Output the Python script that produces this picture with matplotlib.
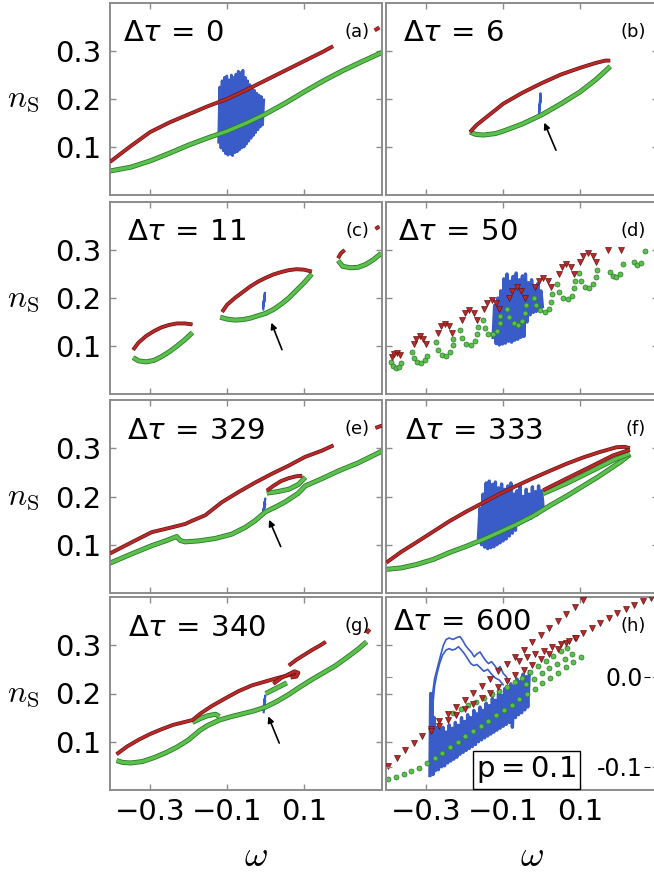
import matplotlib
matplotlib.use("Agg")
import matplotlib.pyplot as plt
import matplotlib.patheffects as pe

# ---- data (axis units: omega, n_s) ----
taus = [0, 6, 11, 50, 329, 333, 340, 600]
letters = ["a", "b", "c", "d", "e", "f", "g", "h"]
xtick_vals = [-0.3, -0.1, 0.1]
xtick_text = ["\u22120.3", "\u22120.1", "0.1"]
ytick_vals = [0.1, 0.2, 0.3]
ytick_text = ["0.1", "0.2", "0.3"]

# (a)
a_red_x = [-0.404, -0.35, -0.30, -0.25, -0.20, -0.15, -0.10, -0.05, 0.00, 0.05, 0.10, 0.15, 0.175]
a_red_y = [0.069, 0.102, 0.131, 0.151, 0.168, 0.185, 0.200, 0.219, 0.239, 0.259, 0.279, 0.299, 0.310]
a_red2_x = [0.283, 0.295]
a_red2_y = [0.343, 0.349]
a_grn_x = [-0.404, -0.35, -0.30, -0.25, -0.20, -0.15, -0.10, -0.05, 0.00, 0.05, 0.10, 0.15, 0.20, 0.25, 0.302]
a_grn_y = [0.050, 0.058, 0.071, 0.087, 0.104, 0.119, 0.133, 0.150, 0.169, 0.191, 0.215, 0.238, 0.259, 0.278, 0.297]
a_blue_x = [-0.122, -0.119, -0.116, -0.113, -0.110, -0.107, -0.104, -0.101, -0.098, -0.095,
            -0.092, -0.089, -0.086, -0.083, -0.080, -0.077, -0.074, -0.071, -0.068, -0.065,
            -0.062, -0.059, -0.056, -0.053, -0.050, -0.047, -0.044, -0.041, -0.038, -0.035,
            -0.032, -0.029, -0.026, -0.023, -0.020, -0.017, -0.014, -0.011, -0.008, -0.005]
a_blue_y = [0.110, 0.225, 0.098, 0.238, 0.092, 0.245, 0.086, 0.248, 0.083, 0.240,
            0.085, 0.250, 0.082, 0.245, 0.088, 0.252, 0.090, 0.258, 0.094, 0.255,
            0.098, 0.260, 0.100, 0.245, 0.106, 0.238, 0.112, 0.230, 0.118, 0.222,
            0.124, 0.218, 0.130, 0.212, 0.136, 0.208, 0.142, 0.205, 0.146, 0.198]

# (b)
b_red_x = [-0.186, -0.17, -0.15, -0.12, -0.10, -0.05, 0.00, 0.05, 0.10, 0.14, 0.165, 0.178]
b_red_y = [0.131, 0.145, 0.158, 0.177, 0.190, 0.213, 0.233, 0.251, 0.265, 0.275, 0.280, 0.280]
b_grn_x = [-0.186, -0.17, -0.15, -0.12, -0.10, -0.05, 0.00, 0.05, 0.10, 0.14, 0.165, 0.178]
b_grn_y = [0.131, 0.126, 0.125, 0.128, 0.133, 0.148, 0.167, 0.190, 0.215, 0.240, 0.258, 0.268]
b_blue_x = [-0.006, -0.003, -0.007, -0.002, -0.006, -0.003, -0.005]
b_blue_y = [0.168, 0.212, 0.172, 0.206, 0.178, 0.198, 0.185]
b_arrow = [0.040, 0.088, 0.004, 0.156]

# (c)
c_red1_x = [-0.344, -0.33, -0.31, -0.29, -0.27, -0.25, -0.23, -0.21, -0.19]
c_red1_y = [0.092, 0.107, 0.121, 0.131, 0.139, 0.144, 0.147, 0.147, 0.145]
c_grn1_x = [-0.344, -0.33, -0.31, -0.29, -0.27, -0.25, -0.23, -0.21, -0.19]
c_grn1_y = [0.076, 0.069, 0.067, 0.070, 0.078, 0.088, 0.100, 0.113, 0.128]
c_red2_x = [-0.113, -0.10, -0.08, -0.06, -0.04, -0.02, 0.00, 0.02, 0.04, 0.06, 0.08, 0.10, 0.12]
c_red2_y = [0.171, 0.186, 0.200, 0.212, 0.224, 0.234, 0.242, 0.249, 0.254, 0.258, 0.260, 0.259, 0.255]
c_grn2_x = [-0.118, -0.10, -0.08, -0.06, -0.04, -0.02, 0.00, 0.02, 0.04, 0.06, 0.08, 0.10, 0.12]
c_grn2_y = [0.160, 0.156, 0.154, 0.155, 0.158, 0.163, 0.168, 0.176, 0.187, 0.200, 0.216, 0.232, 0.250]
c_red3_x = [0.188, 0.195, 0.205]
c_red3_y = [0.283, 0.293, 0.300]
c_red4_x = [0.285, 0.295]
c_red4_y = [0.344, 0.349]
c_grn3_x = [0.188, 0.20, 0.22, 0.24, 0.26, 0.28, 0.30]
c_grn3_y = [0.278, 0.266, 0.263, 0.264, 0.270, 0.280, 0.293]
c_blue_x = [-0.006, -0.002, -0.007, -0.003, -0.006, -0.002, -0.005]
c_blue_y = [0.176, 0.211, 0.180, 0.205, 0.184, 0.198, 0.188]
c_arrow = [0.045, 0.087, 0.012, 0.154]

# (d) individual markers, loop by loop
d_red_x = [-0.388, -0.382, -0.375, -0.368,
           -0.332, -0.325, -0.316, -0.307, -0.300,
           -0.270, -0.262, -0.251, -0.240, -0.232,
           -0.208, -0.200, -0.188, -0.176, -0.168,
           -0.150, -0.142, -0.130, -0.118, -0.110,
           -0.086, -0.077, -0.065, -0.053, -0.044,
           -0.016, -0.008, 0.004, 0.016, 0.024,
           0.044, 0.052, 0.064, 0.076, 0.084,
           0.100, 0.108, 0.120, 0.132, 0.140,
           0.173, 0.207]
d_red_y = [0.078, 0.084, 0.086, 0.082,
           0.104, 0.115, 0.120, 0.115, 0.105,
           0.128, 0.141, 0.146, 0.141, 0.128,
           0.155, 0.168, 0.174, 0.168, 0.155,
           0.177, 0.190, 0.196, 0.190, 0.177,
           0.201, 0.215, 0.222, 0.215, 0.201,
           0.222, 0.235, 0.241, 0.235, 0.222,
           0.251, 0.264, 0.271, 0.264, 0.251,
           0.274, 0.287, 0.293, 0.287, 0.274,
           0.300, 0.300]
d_grn_x = [-0.390, -0.386, -0.378, -0.370, -0.366,
           -0.336, -0.331, -0.323, -0.313, -0.304, -0.298,
           -0.273, -0.268, -0.259, -0.247, -0.237, -0.231, -0.229,
           -0.211, -0.206, -0.196, -0.184, -0.174, -0.167, -0.165,
           -0.153, -0.148, -0.138, -0.126, -0.116, -0.109, -0.107,
           -0.089, -0.084, -0.073, -0.061, -0.050, -0.043, -0.041,
           -0.019, -0.014, -0.004, 0.008, 0.018, 0.025, 0.027,
           0.041, 0.046, 0.056, 0.068, 0.078, 0.085, 0.087,
           0.097, 0.102, 0.112, 0.124, 0.134, 0.141, 0.143,
           0.177, 0.186, 0.194, 0.204, 0.211,
           0.239, 0.248, 0.259, 0.268]
d_grn_y = [0.066, 0.058, 0.054, 0.057, 0.064,
           0.088, 0.075, 0.066, 0.064, 0.070, 0.080,
           0.108, 0.092, 0.082, 0.080, 0.088, 0.103, 0.115,
           0.133, 0.116, 0.104, 0.102, 0.110, 0.125, 0.140,
           0.155, 0.138, 0.126, 0.124, 0.132, 0.147, 0.162,
           0.178, 0.160, 0.147, 0.144, 0.152, 0.168, 0.185,
           0.201, 0.185, 0.174, 0.171, 0.178, 0.192, 0.208,
           0.229, 0.212, 0.199, 0.197, 0.205, 0.220, 0.236,
           0.252, 0.235, 0.223, 0.221, 0.229, 0.244, 0.259,
           0.255, 0.246, 0.244, 0.251, 0.270,
           0.276, 0.269, 0.273, 0.298]
d_blue_x = [-0.126, -0.122, -0.118, -0.114, -0.110, -0.106, -0.102, -0.098, -0.094, -0.090,
            -0.086, -0.082, -0.078, -0.074, -0.070, -0.066, -0.062, -0.058, -0.054, -0.050,
            -0.046, -0.042, -0.038, -0.034, -0.030, -0.026, -0.022, -0.018, -0.014, -0.010,
            -0.006, -0.002, 0.002]
d_blue_y = [0.118, 0.185, 0.105, 0.200, 0.102, 0.215, 0.104, 0.240, 0.106, 0.250,
            0.110, 0.235, 0.108, 0.245, 0.112, 0.252, 0.114, 0.238, 0.118, 0.246,
            0.120, 0.250, 0.150, 0.232, 0.165, 0.238, 0.170, 0.225, 0.172, 0.230,
            0.178, 0.215, 0.182]

# (e)
e_red1_x = [-0.404, -0.348, -0.296, -0.244, -0.209, -0.190, -0.157, -0.114, -0.071, -0.027, 0.016, 0.060, 0.102, 0.146, 0.176]
e_red1_y = [0.082, 0.105, 0.126, 0.136, 0.143, 0.150, 0.161, 0.188, 0.209, 0.229, 0.247, 0.264, 0.282, 0.295, 0.306]
e_red2_x = [0.003, 0.020, 0.040, 0.060, 0.080, 0.095]
e_red2_y = [0.212, 0.222, 0.232, 0.238, 0.242, 0.243]
e_red3_x = [0.285, 0.302]
e_red3_y = [0.342, 0.347]
e_grn1_x = [-0.404, -0.348, -0.296, -0.260, -0.231, -0.222, -0.209, -0.174, -0.131, -0.088, -0.053,
            -0.027, -0.001, 0.025, 0.051, 0.085, 0.103, 0.146, 0.189, 0.241, 0.302]
e_grn1_y = [0.062, 0.081, 0.098, 0.108, 0.117, 0.109, 0.106, 0.108, 0.113, 0.122, 0.136,
            0.150, 0.168, 0.178, 0.189, 0.207, 0.222, 0.237, 0.253, 0.270, 0.294]
e_grn2_x = [0.003, 0.030, 0.060, 0.085, 0.103]
e_grn2_y = [0.207, 0.210, 0.215, 0.225, 0.240]
e_blue_x = [-0.005, -0.001, -0.006, -0.002, -0.005, -0.001, -0.004]
e_blue_y = [0.164, 0.196, 0.168, 0.190, 0.172, 0.185, 0.176]
e_arrow = [0.042, 0.091, 0.006, 0.157]

# (f)
f_red1_x = [-0.403, -0.365, -0.325, -0.280, -0.239, -0.195, -0.152, -0.110, -0.066, -0.022, 0.021, 0.065, 0.108, 0.150, 0.194, 0.215, 0.229]
f_red1_y = [0.063, 0.085, 0.105, 0.128, 0.149, 0.169, 0.187, 0.205, 0.222, 0.238, 0.253, 0.268, 0.281, 0.292, 0.302, 0.303, 0.300]
f_red2_x = [0.004, 0.064, 0.125, 0.185, 0.229]
f_red2_y = [0.213, 0.237, 0.261, 0.285, 0.297]
f_grn1_x = [-0.403, -0.365, -0.325, -0.280, -0.239, -0.195, -0.152, -0.110, -0.066, -0.022, 0.021, 0.065, 0.108, 0.145, 0.177, 0.205, 0.229]
f_grn1_y = [0.049, 0.052, 0.059, 0.070, 0.084, 0.097, 0.111, 0.126, 0.142, 0.160, 0.181, 0.201, 0.222, 0.240, 0.257, 0.272, 0.287]
f_grn2_x = [0.004, 0.064, 0.125, 0.185, 0.229]
f_grn2_y = [0.206, 0.227, 0.251, 0.275, 0.289]
f_blue_x = [-0.164, -0.160, -0.156, -0.152, -0.148, -0.144, -0.140, -0.136, -0.132, -0.128,
            -0.124, -0.120, -0.116, -0.112, -0.108, -0.104, -0.100, -0.096, -0.092, -0.088,
            -0.084, -0.080, -0.076, -0.072, -0.068, -0.064, -0.060, -0.056, -0.052, -0.048,
            -0.044, -0.040, -0.036, -0.032, -0.028, -0.024, -0.020, -0.016, -0.012, -0.008,
            -0.004, 0.000, 0.004]
f_blue_y = [0.115, 0.175, 0.100, 0.205, 0.095, 0.228, 0.092, 0.232, 0.094, 0.225,
            0.096, 0.230, 0.100, 0.218, 0.104, 0.226, 0.108, 0.215, 0.112, 0.222,
            0.118, 0.228, 0.124, 0.205, 0.130, 0.212, 0.142, 0.222, 0.146, 0.200,
            0.150, 0.215, 0.152, 0.205, 0.155, 0.220, 0.160, 0.210, 0.162, 0.222,
            0.168, 0.212, 0.175]

# (g)
g_red1_x = [-0.387, -0.36, -0.33, -0.30, -0.27, -0.24, -0.21, -0.19, -0.17, -0.14, -0.10, -0.07, -0.035, 0.0, 0.03, 0.06, 0.08]
g_red1_y = [0.074, 0.090, 0.104, 0.116, 0.126, 0.135, 0.141, 0.145, 0.158, 0.174, 0.192, 0.205, 0.217, 0.225, 0.232, 0.238, 0.243]
g_red2_x = [0.06, 0.08, 0.10, 0.12, 0.14, 0.156]
g_red2_y = [0.258, 0.270, 0.280, 0.290, 0.299, 0.307]
g_red3_x = [0.02, 0.04, 0.06, 0.075, 0.085, 0.080, 0.065]
g_red3_y = [0.220, 0.232, 0.240, 0.246, 0.243, 0.235, 0.233]
g_red4_x = [0.262, 0.270]
g_red4_y = [0.325, 0.333]
g_grn1_x = [-0.387, -0.37, -0.35, -0.32, -0.29, -0.26, -0.23, -0.20, -0.17, -0.15, -0.12, -0.09,
            -0.06, -0.03, 0.0, 0.03, 0.06, 0.09, 0.12, 0.15, 0.18, 0.21, 0.24, 0.262]
g_grn1_y = [0.061, 0.057, 0.056, 0.059, 0.067, 0.077, 0.089, 0.104, 0.124, 0.134, 0.145, 0.152,
            0.158, 0.164, 0.172, 0.184, 0.198, 0.214, 0.229, 0.243, 0.257, 0.274, 0.292, 0.307]
g_grn2_x = [0.0, 0.02, 0.04, 0.055]
g_grn2_y = [0.200, 0.208, 0.216, 0.222]
g_grn3_x = [-0.19, -0.17, -0.15, -0.13, -0.12]
g_grn3_y = [0.140, 0.148, 0.154, 0.157, 0.152]
g_blue_x = [-0.005, -0.001, -0.006, -0.002, -0.005, -0.001, -0.004]
g_blue_y = [0.161, 0.196, 0.165, 0.190, 0.170, 0.185, 0.175]
g_arrow = [0.038, 0.092, 0.004, 0.158]

# (h) dotted branches and trajectory
h_red1_x = [-0.398, -0.376, -0.354, -0.332, -0.310, -0.288, -0.266, -0.244, -0.222, -0.200, -0.178, -0.156,
            -0.134, -0.112, -0.090, -0.068, -0.046, -0.024, -0.002, 0.020, 0.042, 0.064, 0.086, 0.108]
h_red1_y = [0.050, 0.066, 0.082, 0.097, 0.112, 0.127, 0.142, 0.157, 0.172, 0.187, 0.202, 0.216,
            0.231, 0.246, 0.261, 0.276, 0.291, 0.306, 0.321, 0.336, 0.351, 0.365, 0.379, 0.393]
h_red2_x = [-0.288, -0.266, -0.244, -0.222, -0.200, -0.178, -0.156, -0.134, -0.112, -0.090, -0.068, -0.046, -0.024, -0.002,
            0.020, 0.042, 0.064, 0.086, 0.108, 0.130, 0.152, 0.174, 0.196, 0.218, 0.240, 0.262, 0.284]
h_red2_y = [0.122, 0.133, 0.145, 0.156, 0.168, 0.179, 0.190, 0.202, 0.213, 0.226, 0.238, 0.249, 0.260, 0.271,
            0.282, 0.293, 0.304, 0.315, 0.326, 0.336, 0.346, 0.356, 0.366, 0.375, 0.384, 0.392, 0.398]
h_red3_x = [-0.060, -0.038, -0.016, 0.006, 0.028, 0.050, 0.072, 0.090]
h_red3_y = [0.268, 0.275, 0.282, 0.289, 0.296, 0.303, 0.309, 0.315]
h_grn1_x = [-0.398, -0.378, -0.358, -0.338, -0.318, -0.298, -0.278, -0.258, -0.238, -0.218, -0.198, -0.178, -0.158,
            -0.138, -0.118, -0.098, -0.078, -0.058, -0.038, -0.018, 0.002, 0.022, 0.042, 0.062, 0.082, 0.102]
h_grn1_y = [0.022, 0.027, 0.033, 0.039, 0.046, 0.055, 0.066, 0.077, 0.089, 0.100, 0.111, 0.122, 0.133,
            0.144, 0.155, 0.166, 0.177, 0.188, 0.199, 0.210, 0.221, 0.232, 0.243, 0.254, 0.265, 0.276]
h_grn2_x = [-0.230, -0.210, -0.190, -0.170, -0.150, -0.130, -0.110, -0.090, -0.070, -0.050, -0.030, -0.010, 0.010, 0.030, 0.050, 0.065]
h_grn2_y = [0.160, 0.168, 0.176, 0.183, 0.190, 0.198, 0.206, 0.214, 0.223, 0.233, 0.244, 0.256, 0.267, 0.278, 0.288, 0.295]
h_grn3_x = [-0.040, -0.020, 0.000, 0.020, 0.040, 0.060, 0.080]
h_grn3_y = [0.220, 0.231, 0.242, 0.252, 0.262, 0.272, 0.282]
h_blue1_x = [-0.290, -0.288, -0.286, -0.284, -0.282, -0.279, -0.276, -0.272, -0.268, -0.264,
             -0.260, -0.256, -0.252, -0.248, -0.244, -0.240, -0.236, -0.232, -0.228, -0.224,
             -0.220, -0.216, -0.212, -0.208, -0.204, -0.200, -0.196, -0.192, -0.188, -0.184,
             -0.180, -0.176, -0.172, -0.168, -0.164, -0.160, -0.156, -0.152, -0.148, -0.144,
             -0.140, -0.136, -0.132, -0.128, -0.124, -0.120, -0.116, -0.112, -0.108, -0.104,
             -0.100, -0.096, -0.092, -0.088, -0.084, -0.080, -0.076, -0.072, -0.068, -0.064,
             -0.060, -0.056, -0.052, -0.048, -0.044, -0.040, -0.036, -0.032]
h_blue1_y = [0.030, 0.200, 0.035, 0.180, 0.032, 0.150, 0.040, 0.130, 0.042, 0.125,
             0.048, 0.130, 0.050, 0.120, 0.056, 0.135, 0.060, 0.128, 0.064, 0.140,
             0.068, 0.134, 0.074, 0.150, 0.078, 0.142, 0.082, 0.156, 0.086, 0.150,
             0.090, 0.165, 0.094, 0.158, 0.100, 0.172, 0.104, 0.165, 0.108, 0.180,
             0.112, 0.175, 0.116, 0.190, 0.120, 0.186, 0.124, 0.200, 0.128, 0.196,
             0.132, 0.210, 0.136, 0.205, 0.140, 0.220, 0.130, 0.215, 0.150, 0.230,
             0.156, 0.225, 0.160, 0.240, 0.166, 0.235, 0.172, 0.245]
h_blue2_x = [-0.285, -0.283, -0.278, -0.270, -0.262, -0.255, -0.248, -0.240, -0.230, -0.220, -0.212, -0.205, -0.198, -0.190,
             -0.182, -0.175, -0.168, -0.160, -0.152, -0.145, -0.138, -0.130, -0.122, -0.115, -0.108, -0.100, -0.092, -0.085]
h_blue2_y = [0.150, 0.200, 0.230, 0.255, 0.280, 0.300, 0.312, 0.315, 0.312, 0.316, 0.318, 0.310, 0.300, 0.292,
             0.285, 0.276, 0.282, 0.286, 0.276, 0.268, 0.262, 0.266, 0.258, 0.250, 0.256, 0.242, 0.235, 0.225]
h_blue3_x = [-0.282, -0.278, -0.272, -0.265, -0.257, -0.248, -0.240, -0.232, -0.224, -0.216, -0.208, -0.200,
             -0.192, -0.184, -0.176, -0.168, -0.160, -0.150, -0.140, -0.130, -0.120, -0.110, -0.100]
h_blue3_y = [0.180, 0.215, 0.240, 0.262, 0.280, 0.290, 0.293, 0.290, 0.292, 0.297, 0.290, 0.282,
             0.272, 0.262, 0.258, 0.260, 0.254, 0.246, 0.250, 0.240, 0.232, 0.228, 0.218]
h_side_ticks = [-0.1, 0.0]
h_side_text = ["-0.1", "0.0"]

RED, RED_EDGE = "#b82a2a", "#6a1212"
GRN, GRN_EDGE = "#5cc04c", "#2a7a2a"
BLUE = "#3a5cc8"
FRAME = "#8c8c8c"


def band(ax, x, y, kind):
    if kind == "r":
        ax.plot(x, y, color=RED, lw=1.8, zorder=3, solid_capstyle="butt",
                path_effects=[pe.Stroke(linewidth=2.8, foreground=RED_EDGE), pe.Normal()])
    else:
        ax.plot(x, y, color=GRN, lw=2.4, zorder=2, solid_capstyle="butt",
                path_effects=[pe.Stroke(linewidth=3.6, foreground=GRN_EDGE), pe.Normal()])


def dots(ax, x, y, kind):
    if kind == "r":
        ax.plot(x, y, "v", ms=3.8, mfc=RED, mec=RED_EDGE, mew=0.5, zorder=3, ls="none")
    else:
        ax.plot(x, y, "o", ms=3.6, mfc=GRN, mec=GRN_EDGE, mew=0.5, zorder=2, ls="none")


def blob(ax, x, y, lw=2.0):
    ax.plot(x, y, color=BLUE, lw=lw, zorder=1)


def arrow(ax, a):
    ax.annotate("", xy=(a[2], a[3]), xytext=(a[0], a[1]),
                arrowprops=dict(arrowstyle="-|>", color="black", lw=1.2, mutation_scale=9))


W, H = 654, 873
fig = plt.figure(figsize=(6.54, 8.73), dpi=100)
col_left = [110, 386]
row_top = [3, 202, 400, 597]
row_bot = [195, 394, 593, 790]
tau_x = [0.048, 0.062, 0.062, 0.044, 0.062, 0.07, 0.066, 0.026]

axes = []
for i in range(8):
    r, c = divmod(i, 2)
    ax = fig.add_axes([col_left[c] / W, 1 - row_bot[r] / H, 272 / W, (row_bot[r] - row_top[r]) / H])
    ax.set_xlim(-0.404, 0.302)
    ax.set_ylim(0.0, 0.4)
    for s in ax.spines.values():
        s.set_color(FRAME)
        s.set_linewidth(1.4)
    ax.set_xticks(xtick_vals)
    ax.set_yticks(ytick_vals)
    ax.tick_params(direction="in", top=True, right=True, length=4, width=1, color=FRAME,
                   labelsize=21, pad=6)
    if r == 3:
        ax.set_xticklabels(xtick_text)
        ax.text(0.535, -0.34, r"$\omega$", transform=ax.transAxes, ha="center", va="center",
                fontsize=26, math_fontfamily="cm")
    else:
        ax.set_xticklabels([])
    if c == 0:
        ax.set_yticklabels(ytick_text)
        ax.text(-0.32, 0.5, r"$n_{\rm S}$", transform=ax.transAxes, ha="center", va="center",
                fontsize=23, math_fontfamily="cm")
    else:
        ax.set_yticklabels([])
    ax.text(tau_x[i], 0.80 if i < 7 else 0.83, r"$\Delta\tau\,=\,%d$" % taus[i], transform=ax.transAxes,
            ha="left", va="baseline", fontsize=21)
    ax.text(0.955, 0.85, "(%s)" % letters[i], transform=ax.transAxes, ha="right", va="center",
            fontsize=13)
    axes.append(ax)

ax = axes[0]
blob(ax, a_blue_x, a_blue_y)
band(ax, a_grn_x, a_grn_y, "g")
band(ax, a_red_x, a_red_y, "r")
band(ax, a_red2_x, a_red2_y, "r")

ax = axes[1]
blob(ax, b_blue_x, b_blue_y, lw=1.5)
band(ax, b_grn_x, b_grn_y, "g")
band(ax, b_red_x, b_red_y, "r")
arrow(ax, b_arrow)

ax = axes[2]
blob(ax, c_blue_x, c_blue_y, lw=1.5)
for gx, gy in [(c_grn1_x, c_grn1_y), (c_grn2_x, c_grn2_y), (c_grn3_x, c_grn3_y)]:
    band(ax, gx, gy, "g")
for rx, ry in [(c_red1_x, c_red1_y), (c_red2_x, c_red2_y), (c_red3_x, c_red3_y), (c_red4_x, c_red4_y)]:
    band(ax, rx, ry, "r")
arrow(ax, c_arrow)

ax = axes[3]
blob(ax, d_blue_x, d_blue_y, lw=2.4)
dots(ax, d_grn_x, d_grn_y, "g")
dots(ax, d_red_x, d_red_y, "r")

ax = axes[4]
blob(ax, e_blue_x, e_blue_y, lw=1.5)
band(ax, e_grn1_x, e_grn1_y, "g")
band(ax, e_grn2_x, e_grn2_y, "g")
for rx, ry in [(e_red1_x, e_red1_y), (e_red2_x, e_red2_y), (e_red3_x, e_red3_y)]:
    band(ax, rx, ry, "r")
arrow(ax, e_arrow)

ax = axes[5]
blob(ax, f_blue_x, f_blue_y, lw=2.4)
band(ax, f_grn1_x, f_grn1_y, "g")
band(ax, f_grn2_x, f_grn2_y, "g")
band(ax, f_red1_x, f_red1_y, "r")
band(ax, f_red2_x, f_red2_y, "r")

ax = axes[6]
blob(ax, g_blue_x, g_blue_y, lw=1.5)
for gx, gy in [(g_grn1_x, g_grn1_y), (g_grn2_x, g_grn2_y), (g_grn3_x, g_grn3_y)]:
    band(ax, gx, gy, "g")
for rx, ry in [(g_red1_x, g_red1_y), (g_red2_x, g_red2_y), (g_red3_x, g_red3_y), (g_red4_x, g_red4_y)]:
    band(ax, rx, ry, "r")
arrow(ax, g_arrow)

ax = axes[7]
blob(ax, h_blue1_x, h_blue1_y, lw=2.4)
blob(ax, h_blue2_x, h_blue2_y, lw=1.2)
blob(ax, h_blue3_x, h_blue3_y, lw=1.2)
for gx, gy in [(h_grn1_x, h_grn1_y), (h_grn2_x, h_grn2_y), (h_grn3_x, h_grn3_y)]:
    dots(ax, gx, gy, "g")
for rx, ry in [(h_red1_x, h_red1_y), (h_red2_x, h_red2_y), (h_red3_x, h_red3_y)]:
    dots(ax, rx, ry, "r")
ax.tick_params(axis="y", left=False, right=False)
ax.text(0.515, 0.105, r"$\mathrm{p}=0.1$", transform=ax.transAxes, ha="center", va="center",
        fontsize=21, zorder=6,
        bbox=dict(boxstyle="square,pad=0.12", fc="white", ec="black", lw=1))
tw = ax.twinx()
tw.set_ylim(-0.126, 0.089)
tw.set_yticks(h_side_ticks)
tw.tick_params(axis="y", direction="in", left=True, right=True, labelleft=False, labelright=False,
               length=4, color=FRAME)
for s in tw.spines.values():
    s.set_visible(False)

# tick labels of a neighbouring (cropped) axis
lab = fig.add_axes([650 / W, 1 - 790 / H, 0.02, 193 / H])
lab.set_ylim(-0.126, 0.089)
lab.set_yticks(h_side_ticks)
lab.set_yticklabels(h_side_text)
lab.set_xticks([])
lab.tick_params(axis="y", direction="out", length=4, labelsize=17, pad=1)
for s in lab.spines.values():
    s.set_visible(False)
lab.patch.set_alpha(0)

fig.savefig("out.png", dpi=100)
